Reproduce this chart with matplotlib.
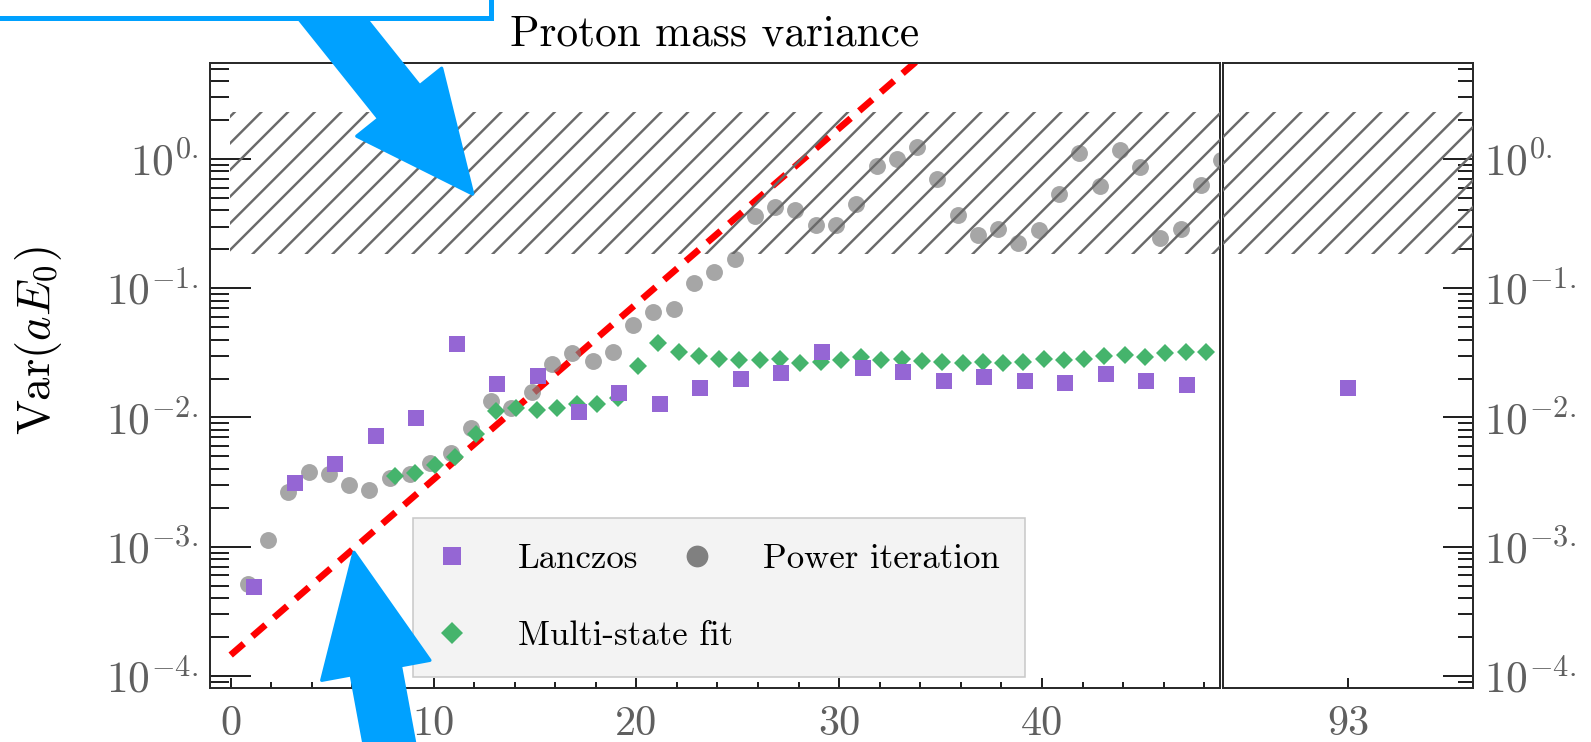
import numpy as np
import matplotlib
matplotlib.use("Agg")
import matplotlib.pyplot as plt
from matplotlib.lines import Line2D
from matplotlib.patches import FancyArrow, Rectangle
from matplotlib.transforms import IdentityTransform
from matplotlib.ticker import LogLocator, NullFormatter, FuncFormatter, MultipleLocator, FixedLocator

plt.rcParams.update({
    "font.family": "serif",
    "font.serif": ["cmr10"],
    "mathtext.fontset": "cm",
    "axes.unicode_minus": False,
    "hatch.linewidth": 1.1,
})

# ---- data -------------------------------------------------------------
lanczos_x = list(range(1, 48, 2))
lanczos_var = [4.89e-4, 3.13e-3, 4.34e-3, 7.23e-3, 9.96e-3, 0.0371, 0.0182, 0.0210,
               0.0111, 0.0154, 0.01265, 0.0168, 0.0198, 0.0220, 0.0318, 0.0240,
               0.0226, 0.0192, 0.0205, 0.0193, 0.0184, 0.0217, 0.0190, 0.0179]

power_x = list(range(1, 50))
power_var = [5.1e-4, 1.13e-3, 2.66e-3, 3.76e-3, 3.67e-3, 3.0e-3, 2.74e-3, 3.38e-3,
             3.63e-3, 4.42e-3, 5.28e-3, 8.3e-3, 0.0134, 0.0119, 0.0156, 0.0260,
             0.0314, 0.0274, 0.0323, 0.0520, 0.0653, 0.0692, 0.1095, 0.1346,
             0.169, 0.364, 0.427, 0.405, 0.306, 0.306, 0.451, 0.887,
             1.00, 1.24, 0.703, 0.371, 0.256, 0.287, 0.224, 0.280,
             0.536, 1.11, 0.613, 1.18, 0.861, 0.244, 0.287, 0.632, 0.99]

msf_x = list(range(8, 49))
msf_var = [3.5e-3, 3.7e-3, 4.3e-3, 4.9e-3, 7.5e-3, 0.0113, 0.0119, 0.0115,
           0.0118, 0.0128, 0.0127, 0.0141, 0.0250, 0.0380, 0.0318, 0.0301,
           0.0282, 0.0279, 0.0279, 0.0282, 0.0266, 0.0270, 0.0279, 0.0292,
           0.0279, 0.0281, 0.0274, 0.0267, 0.0263, 0.0270, 0.0263, 0.0270,
           0.0282, 0.0280, 0.0282, 0.0299, 0.0305, 0.0295, 0.0314, 0.0318, 0.0318]

tail_x = [93]
tail_lanczos_var = [0.0168]

trend_x = [0, 36]
trend_var = [1.45e-4, 11.3]

noise_band = [0.184, 2.3]

x_ticks = [0, 10, 20, 30, 40]

# ---- style --------------------------------------------------------------
W, H, DPI = 1591, 742, 160
C_LANCZOS = "#9566D4"
C_POWER = "#808080"
C_MSF = "#45B46C"
C_BLUE = "#00A1FF"
C_TICKLAB = "#5f5f5f"
C_SPINE = "#2b2b2b"
HATCH_C = "#6a6a6a"

DX_L, DX_P, DX_M = 0.15, -0.16, 0.08

fig = plt.figure(figsize=(W / DPI, H / DPI), dpi=DPI)
ax = fig.add_axes([210 / W, 1 - 687.7 / H, 1009.5 / W, 624.4 / H])
ax2 = fig.add_axes([1222.5 / W, 1 - 687.7 / H, 250.8 / W, 624.4 / H])

YLIM = (8.1e-5, 5.5)


def exp_label(v, pos):
    return r"$10^{%d.}$" % int(round(np.log10(v)))


for a in (ax, ax2):
    a.set_yscale("log")
    a.set_ylim(*YLIM)
    a.yaxis.set_major_locator(LogLocator(base=10, numticks=20))
    a.yaxis.set_minor_locator(LogLocator(base=10, subs=np.arange(2, 10), numticks=20))
    a.yaxis.set_major_formatter(FuncFormatter(exp_label))
    a.yaxis.set_minor_formatter(NullFormatter())
    for s in a.spines.values():
        s.set_color(C_SPINE)
        s.set_linewidth(0.9)

# main panel
ax.plot(trend_x, trend_var, color="red", lw=3.0, dashes=(2.6, 1.7),
        dash_capstyle="butt", zorder=1.5)
ax.plot(np.array(power_x) + DX_P, power_var, "o", ms=7.6, color=C_POWER,
        alpha=0.7, mew=0, zorder=2)
ax.plot(np.array(msf_x) + DX_M, msf_var, "D", ms=5.6, color=C_MSF, mew=0, zorder=3)
ax.plot(np.array(lanczos_x) + DX_L, lanczos_var, "s", ms=7.5, color=C_LANCZOS,
        mew=0, zorder=3.5)
ax.fill_between([-0.05, 50], noise_band[0], noise_band[1], facecolor="none",
                edgecolor=HATCH_C, hatch="//", linewidth=0, zorder=4)

ax.set_xlim(-1.02, 48.75)
ax.xaxis.set_major_locator(FixedLocator(x_ticks))
ax.xaxis.set_minor_locator(MultipleLocator(2))
ax.tick_params(axis="y", which="major", direction="in", length=18.3, width=0.9,
               pad=5.4, labelsize=19.5, labelcolor=C_TICKLAB, color="#222222",
               left=True, right=False)
ax.tick_params(axis="y", which="minor", direction="in", length=8.7, width=0.9,
               color="#222222", left=True, right=False)
ax.tick_params(axis="x", which="major", direction="in", length=4.5, width=0.9,
               pad=8, labelsize=19, labelcolor=C_TICKLAB, color="#222222",
               top=False)
ax.tick_params(axis="x", which="minor", direction="in", length=2.7, width=0.9,
               color="#222222", top=False)
ax.set_title("Proton mass variance", fontsize=19.5, pad=8)

# tail panel
ax2.plot(np.array(tail_x), tail_lanczos_var, "s", ms=7.5, color=C_LANCZOS,
         mew=0, zorder=3.5)
ax2.fill_between([80, 100], noise_band[0], noise_band[1], facecolor="none",
                 edgecolor=HATCH_C, hatch="//", linewidth=0, zorder=4)
ax2.set_xlim(92, 94)
ax2.xaxis.set_major_locator(FixedLocator(tail_x))
ax2.xaxis.set_minor_locator(FixedLocator([]))
ax2.tick_params(axis="y", which="major", direction="in", length=13.5, width=0.9,
                pad=4.8, labelsize=19.5, labelcolor=C_TICKLAB, color="#222222",
                left=False, right=True, labelleft=False, labelright=True)
ax2.tick_params(axis="y", which="minor", direction="in", length=6.75, width=0.9,
                color="#222222", left=False, right=True)
ax2.tick_params(axis="x", which="major", direction="in", length=4.5, width=0.9,
                pad=8, labelsize=19, labelcolor=C_TICKLAB, color="#222222",
                top=False)

fig.text(38.6 / W, 1 - 341 / H, r"$\mathrm{Var}(aE_0)$", rotation=90,
         ha="center", va="center", fontsize=21)

# legend: two rows, the second row holds only the fit entry
sq_h = Line2D([], [], ls="none", marker="s", ms=8.2, color=C_LANCZOS, mew=0)
ci_h = Line2D([], [], ls="none", marker="o", ms=9.8, color=C_POWER, mew=0)
di_h = Line2D([], [], ls="none", marker="D", ms=6.9, color=C_MSF, mew=0)
blank = Line2D([], [], ls="none")

common = dict(loc="lower left", bbox_to_anchor=(0.2014, 0.01666), borderaxespad=0,
              fontsize=15.7, borderpad=0.72, handlelength=0.8, handletextpad=1.47,
              columnspacing=1.3, labelspacing=1.3, handleheight=0.7)
legA = ax.legend([sq_h, blank, ci_h, blank], ["Lanczos", " ", "Power iteration", " "],
                 ncol=2, frameon=True, fancybox=False, facecolor="#F3F3F3",
                 edgecolor="#C8C8C8", framealpha=1, **common)
legA.get_frame().set_linewidth(0.7)
ax.add_artist(legA)
legB = ax.legend([di_h], ["Multi-state fit"], frameon=False, **common)
legB.set_zorder(6)

# callout box and arrows
arrow_kw = dict(length_includes_head=True, transform=IdentityTransform(),
                facecolor=C_BLUE, edgecolor=C_BLUE, lw=1.5, joinstyle="round")
fig.add_artist(FancyArrow(305.4, H + 15, 167.3, -209, width=52.5, head_width=108.7,
                          head_length=117.6, zorder=10, **arrow_kw))
fig.add_artist(FancyArrow(392.4, -18, -38.4, 207.7, width=50, head_width=110,
                          head_length=120, zorder=10, **arrow_kw))
fig.add_artist(Rectangle((-20, H - 18), 511, 60, transform=IdentityTransform(),
                         facecolor="white", edgecolor=C_BLUE, lw=2.25, zorder=11))

fig.savefig("out.png", dpi=DPI)
